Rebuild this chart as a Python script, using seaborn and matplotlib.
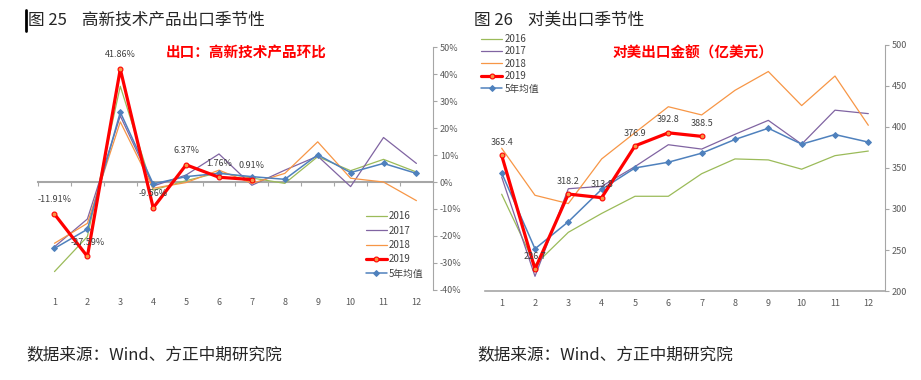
import numpy as np
import pandas as pd
import seaborn as sns
import matplotlib.pyplot as plt
from matplotlib.lines import Line2D
from matplotlib.ticker import FuncFormatter

# months
months = list(range(1, 13))

# 高新技术产品出口环比 (%)
hitech_2016 = [-33.2, -20.2, 35.5, -3.0, 0.5, 3.5, 1.5, -0.5, 9.4, 4.2, 8.4, 3.7]
hitech_2017 = [-24.0, -13.7, 24.5, -1.5, 2.6, 10.4, -1.2, 4.4, 9.6, -1.7, 16.5, 6.9]
hitech_2018 = [-22.7, -15.3, 22.3, -2.3, -0.2, 4.4, -0.5, 3.2, 14.9, 1.4, 0.0, -6.9]
hitech_2019 = [-11.91, -27.59, 41.86, -9.56, 6.37, 1.76, 0.91]
hitech_avg = [-24.6, -17.5, 25.9, -0.7, 2.0, 3.2, 2.0, 1.0, 10.1, 3.5, 6.9, 3.2]

# 对美出口金额 (亿美元)
us_2016 = [318.0, 232.0, 271.6, 294.6, 315.5, 315.5, 343.0, 361.0, 359.8, 348.5, 365.0, 370.6]
us_2017 = [339.0, 218.0, 324.7, 327.6, 351.7, 378.3, 373.0, 391.0, 408.0, 379.0, 420.4, 416.2]
us_2018 = [374.0, 316.7, 306.6, 361.0, 393.0, 424.6, 414.6, 444.6, 467.5, 426.0, 462.0, 402.0]
us_2019 = [365.4, 226.7, 318.2, 313.8, 376.9, 392.8, 388.5]
us_avg = [344.0, 251.5, 284.5, 324.0, 350.0, 357.0, 368.0, 384.7, 398.4, 379.0, 390.7, 381.5]

series_names = ['2016', '2017', '2018', '2019', '5年均值']
colors = {'2016': '#9BBB59', '2017': '#8064A2', '2018': '#F79646',
          '2019': '#FF0000', '5年均值': '#4F81BD'}

sns.set_style('white')
plt.rcParams['font.family'] = ['Noto Sans CJK SC', 'DejaVu Sans']
plt.rcParams['axes.unicode_minus'] = False

tick_color = '#595959'
axis_color = '#A6A6A6'


def make_df(vals):
    rows = []
    for name, v in zip(series_names, vals):
        for m, y in zip(months, v):
            rows.append({'month': m, 'value': y, 'series': name})
    return pd.DataFrame(rows)


def draw_lines(ax, df):
    for name in series_names:
        d = df[df['series'] == name]
        kw = dict(color=colors[name], linewidth=0.9)
        if name == '2019':
            kw.update(linewidth=2.3, marker='o', markersize=3.5,
                      markerfacecolor='#F79646', markeredgecolor='#FF0000', markeredgewidth=0.8)
        elif name == '5年均值':
            kw.update(linewidth=1.1, marker='D', markersize=3,
                      markerfacecolor=colors[name], markeredgecolor=colors[name])
        sns.lineplot(data=d, x='month', y='value', ax=ax, label=name, zorder=5 if name == '2019' else 3, **kw)


def style_axes(ax):
    ax.set_xlim(0.5, 12.5)
    ax.set_xticks(months)
    ax.set_xlabel('')
    ax.set_ylabel('')
    ax.yaxis.tick_right()
    for s in ['left', 'top']:
        ax.spines[s].set_visible(False)
    ax.spines['right'].set_color(axis_color)
    ax.tick_params(axis='y', colors=axis_color, labelcolor=tick_color, labelsize=6.5,
                   direction='out', length=3, width=0.8, pad=2)
    ax.tick_params(axis='x', labelcolor=tick_color, labelsize=6.5, length=0, pad=6)


fig = plt.figure(figsize=(9.21, 3.80), dpi=100)

# ---------- left chart ----------
ax1 = fig.add_axes([0.0413, 0.237, 0.4287, 0.639])
df1 = make_df([hitech_2016, hitech_2017, hitech_2018, hitech_2019, hitech_avg])
draw_lines(ax1, df1)
style_axes(ax1)
ax1.set_ylim(-40, 50)
ax1.set_yticks(np.arange(-40, 51, 10))
ax1.yaxis.set_major_formatter(FuncFormatter(lambda v, p: f'{v:.0f}%'))
ax1.spines['bottom'].set_visible(False)
# zero line with category tick marks
sec = ax1.secondary_xaxis(40 / 90)
sec.set_xticks(np.arange(0.5, 13, 1))
sec.set_xticklabels([])
sec.spines['bottom'].set_color(axis_color)
sec.spines['bottom'].set_linewidth(1.5)
sec.tick_params(axis='x', colors=axis_color, direction='out', length=3, width=0.8)

for m, v in zip(months, hitech_2019):
    ax1.annotate(f'{v:.2f}%', (m, v), xytext=(0, 7), textcoords='offset points',
                 ha='center', va='bottom', fontsize=6.5, color='#404040', zorder=6)

leg1 = ax1.legend(loc='upper left', bbox_to_anchor=(0.82, 0.34), frameon=False,
                  fontsize=7, handlelength=2.2, labelspacing=0.45, handletextpad=0.2,
                  borderaxespad=0)
for t in leg1.get_texts():
    t.set_color('#404040')

# ---------- right chart ----------
ax2 = fig.add_axes([0.5266, 0.234, 0.4343, 0.648])
df2 = make_df([us_2016, us_2017, us_2018, us_2019, us_avg])
draw_lines(ax2, df2)
style_axes(ax2)
ax2.set_ylim(200, 500)
ax2.set_yticks(np.arange(200, 501, 50))
ax2.spines['bottom'].set_color(axis_color)
ax2.spines['bottom'].set_linewidth(1.2)
ax2.set_xticks(np.arange(0.5, 13, 1), minor=True)
ax2.tick_params(axis='x', which='minor', colors=axis_color, direction='out', length=3, width=0.8)

for m, v in zip(months, us_2019):
    ax2.annotate(f'{v:.1f}', (m, v), xytext=(0, 6), textcoords='offset points',
                 ha='center', va='bottom', fontsize=6.5, color='#404040', zorder=6)

leg2 = ax2.legend(loc='upper left', bbox_to_anchor=(-0.02, 1.06), frameon=False,
                  fontsize=7, handlelength=2.2, labelspacing=0.25, handletextpad=0.2,
                  borderaxespad=0)
for t in leg2.get_texts():
    t.set_color('#404040')

# ---------- titles and notes ----------
fig.add_artist(Line2D([0.0285, 0.0285], [0.918, 0.975], color='black', linewidth=2))
fig.text(0.030, 0.947, '图 25    高新技术产品出口季节性', fontsize=12, va='center', ha='left')
fig.text(0.515, 0.947, '图 26    对美出口季节性', fontsize=12, va='center', ha='left')

fig.text(0.267, 0.863, '出口：高新技术产品环比', fontsize=10.5, fontweight='bold',
         color='#FF0000', ha='center', va='center')
fig.text(0.752, 0.863, '对美出口金额（亿美元）', fontsize=10.5, fontweight='bold',
         color='#FF0000', ha='center', va='center')

fig.text(0.029, 0.066, '数据来源：Wind、方正中期研究院', fontsize=12, style='italic',
         ha='left', va='center')
fig.text(0.518, 0.066, '数据来源：Wind、方正中期研究院', fontsize=12, style='italic',
         ha='left', va='center')

fig.savefig('out.png', dpi=100)
